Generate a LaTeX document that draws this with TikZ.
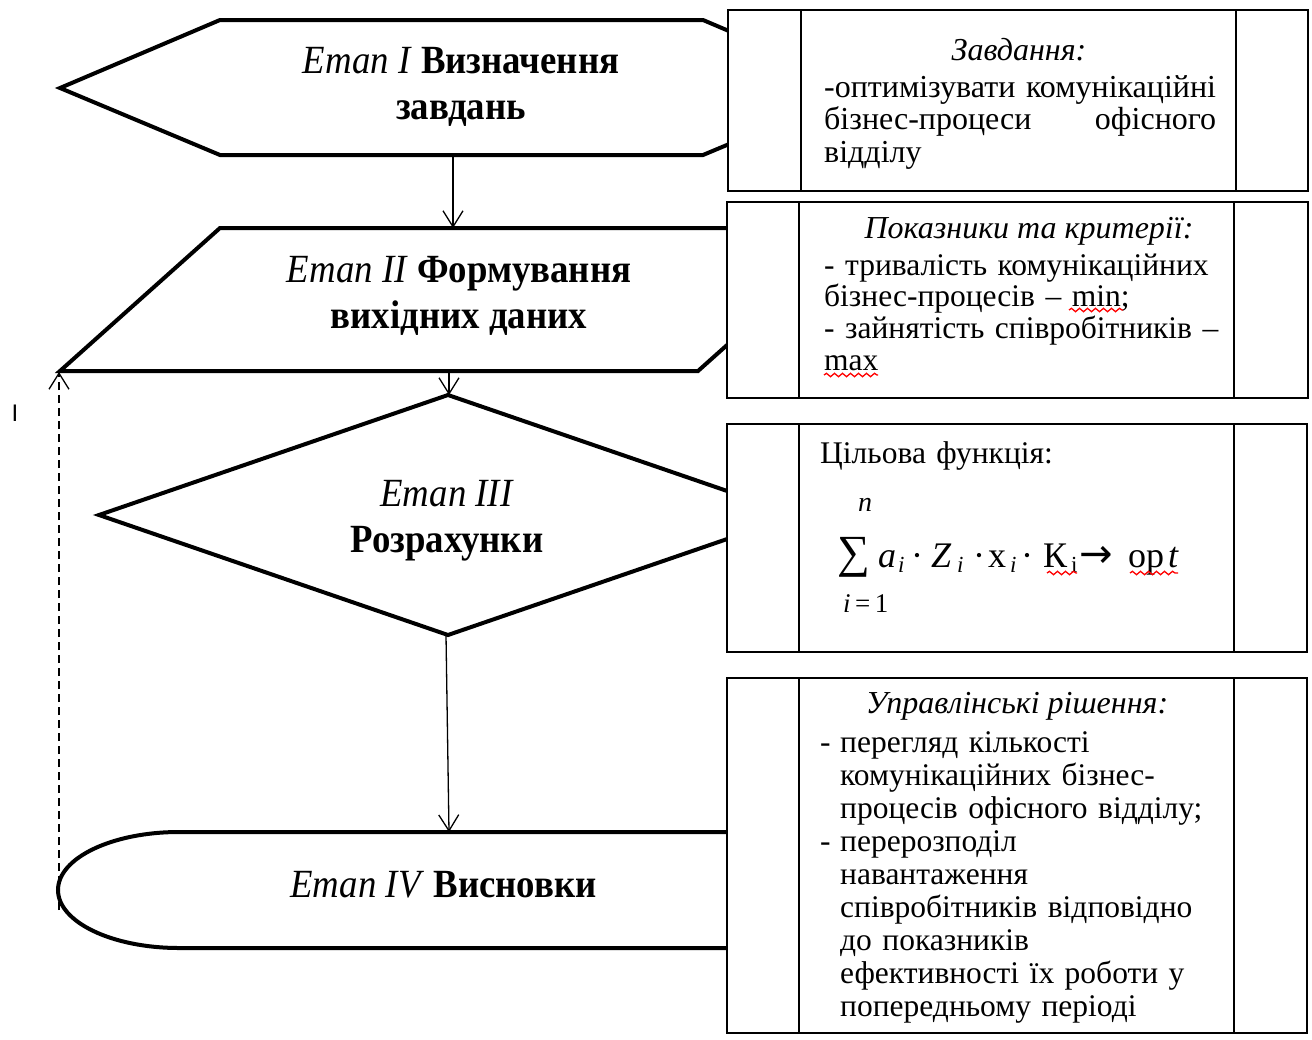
\RequirePackage{fix-cm}
\documentclass[tikz,border=0pt]{standalone}
\usepackage{fontspec}
\setmainfont{Liberation Serif}
\newfontfamily\headfont[FakeStretch=0.92]{Liberation Serif}
\newfontfamily\cursorfont{Liberation Sans}
\newfontfamily\arrowfont{DejaVu Sans}
\usetikzlibrary{arrows.meta,decorations.pathmorphing}
\newcommand\glyphat[2]{\rlap{\hspace*{#1pt}#2}}
\newcommand\subsc[1]{\raisebox{-5pt}{\fontsize{23}{23}\selectfont #1}}
\begin{document}
\begin{tikzpicture}[x=1pt,y=-1pt,
  shp/.style={draw,line width=4pt,fill=white},
  infobox/.style={draw,line width=2pt,fill=white},
  colline/.style={line width=2pt},
  conn/.style={line width=1.3pt,-{Straight Barb[length=16pt,width=20pt,line width=1.3pt]}},
  backconn/.style={conn,line width=1.8pt,dash pattern=on 8pt off 5pt},
  headtxt/.style={font=\headfont\fontsize{40}{46}\selectfont,align=center,inner sep=0pt},
  boxtitle/.style={font=\fontsize{32}{32}\selectfont\itshape,inner sep=0pt,anchor=base},
  boxtxt/.style={font=\fontsize{31.5}{32.5}\selectfont,inner sep=0pt,anchor=base west,align=left},
  mathtxt/.style={inner sep=0pt,font=\fontsize{36}{36}\selectfont},
  wave/.style={red,line width=1.3pt,decorate,decoration={snake,amplitude=1.7pt,segment length=8pt}}]
\useasboundingbox (0,0) rectangle (1312,1039);
\fill[white] (0,0) rectangle (1312,1039);

% ---- flowchart shapes
\draw[shp] (60,88) -- (220,20) -- (703,20) -- (863,88) -- (703,155) -- (220,155) -- cycle;
\draw[shp] (60,371) -- (220,228) -- (858,228) -- (698,371) -- cycle;
\draw[shp] (448,395) -- (797,515) -- (448,635) -- (99,515) -- cycle;
\draw[shp] (900,832) -- (179,832) .. controls (112,832) and (58,858) .. (58,890)
  .. controls (58,922) and (112,948) .. (179,948) -- (900,948) -- cycle;

\coordinate (h1bot) at (453,155);
\coordinate (p2top) at (453,228);
\coordinate (p2bot) at (449,371);
\coordinate (d3top) at (449,395);
\coordinate (d3bot) at (446,635);
\coordinate (t4top) at (449,832);
\coordinate (p2corner) at (59,372);
\coordinate (backstart) at (59,910);

% ---- info boxes
\draw[infobox] (728,10) rectangle (1308,191);
\draw[colline] (801,10) -- (801,191) (1236,10) -- (1236,191);
\draw[infobox] (727,202) rectangle (1308,398);
\draw[colline] (799,202) -- (799,398) (1234,202) -- (1234,398);
\draw[infobox] (727,424) rectangle (1307,652);
\draw[colline] (799,424) -- (799,652) (1234,424) -- (1234,652);
\draw[infobox] (727,678) rectangle (1307,1033);
\draw[colline] (799,678) -- (799,1033) (1234,678) -- (1234,1033);

% ---- connectors
\draw[conn] (h1bot) -- (p2top);
\draw[conn] (p2bot) -- (d3top);
\draw[conn] (d3bot) -- (t4top);
\draw[backconn] (backstart) -- (p2corner);

% ---- shape texts
\node[headtxt] (s1) at (461,87) {\textit{Етап I} \textbf{Визначення}\\\textbf{завдань}};
\node[headtxt] (s2) at (459,296) {\textit{Етап II} \textbf{Формування}\\\textbf{вихідних даних}};
\node[headtxt] (s3) at (447,521) {\textit{Етап III}\\\textbf{Розрахунки}};
\node[headtxt,anchor=base] (s4) at (443.5,897) {\textit{Етап IV} \textbf{Висновки}};

% ---- box 1
\node[boxtitle] (b1t) at (1019,60) {Завдання:};
\node[boxtxt,text width=392pt,font=\fontsize{32}{32.5}\selectfont] (b1b) at (824,97)
  {\mbox{-оптимізувати комунікаційні}\\
   \makebox[392pt]{бізнес-процеси\hfill офісного}\\
   відділу};

% ---- box 2
\node[boxtitle] (b2t) at (1029,238) {Показники та критерії:};
\node[boxtxt,text width=405pt,font=\fontsize{31.5}{31.7}\selectfont] (b2b) at (824,275)
  {\mbox{- тривалість комунікаційних}\\
   \mbox{бізнес-процесів – min;}\\
   \mbox{- зайнятість співробітників –}\\
   max};
\draw[wave] (1069,310) -- (1123,310);
\draw[wave] (824,375) -- (878,375);

% ---- box 3
\node[boxtxt,text width=400pt] (b3t) at (820,463) {Цільова функція:};
\node[inner sep=0pt,font=\fontsize{28}{28}\selectfont\itshape] (lim1) at (865,505) {n};
\node[inner sep=0pt,anchor=base west,font=\fontsize{27}{27}\selectfont] (lim0) at (843,612) {\textit{i}\,=\,1};
\node[inner sep=0pt,font=\fontsize{46}{46}\selectfont] (sumsym) at (853.5,557.5) {∑};
\node[mathtxt,anchor=base west] (frm) at (842,567)
  {\glyphat{36}{\textit{a}}\glyphat{56}{\subsc{\textit{i}}}%
   \glyphat{69}{·}\glyphat{89}{\textit{Z}}\glyphat{115}{\subsc{\textit{i}}}%
   \glyphat{131}{·}\glyphat{146}{x}\glyphat{168}{\subsc{\textit{i}}}%
   \glyphat{179}{·}\glyphat{201}{К}\glyphat{229}{\subsc{i}}%
   \glyphat{237}{{\arrowfont\fontsize{40}{40}\selectfont →}}\glyphat{286}{op}\glyphat{326}{\textit{t}}\hspace*{346pt}};
\draw[wave] (1047,573) -- (1077,573);
\draw[wave] (1130,573) -- (1178,573);

% ---- box 4
\node[boxtitle] (b4t) at (1017,713) {Управлінські рішення:};
\node[boxtxt,text width=405pt,font=\fontsize{31.5}{33.1}\selectfont] (b4b) at (820,752)
  {\makebox[20pt][l]{-}перегляд кількості\\
   \hspace*{20pt}комунікаційних бізнес-\\
   \hspace*{20pt}процесів офісного відділу;\\
   \makebox[20pt][l]{-}перерозподіл\\
   \hspace*{20pt}навантаження\\
   \hspace*{20pt}співробітників відповідно\\
   \hspace*{20pt}до показників\\
   \hspace*{20pt}ефективності їх роботи у\\
   \hspace*{20pt}попередньому періоді};

% ---- stray cursor mark
\node[inner sep=0pt,font=\cursorfont\fontsize{24}{24}\selectfont] (cursor) at (15,413) {I};
\end{tikzpicture}
\end{document}
